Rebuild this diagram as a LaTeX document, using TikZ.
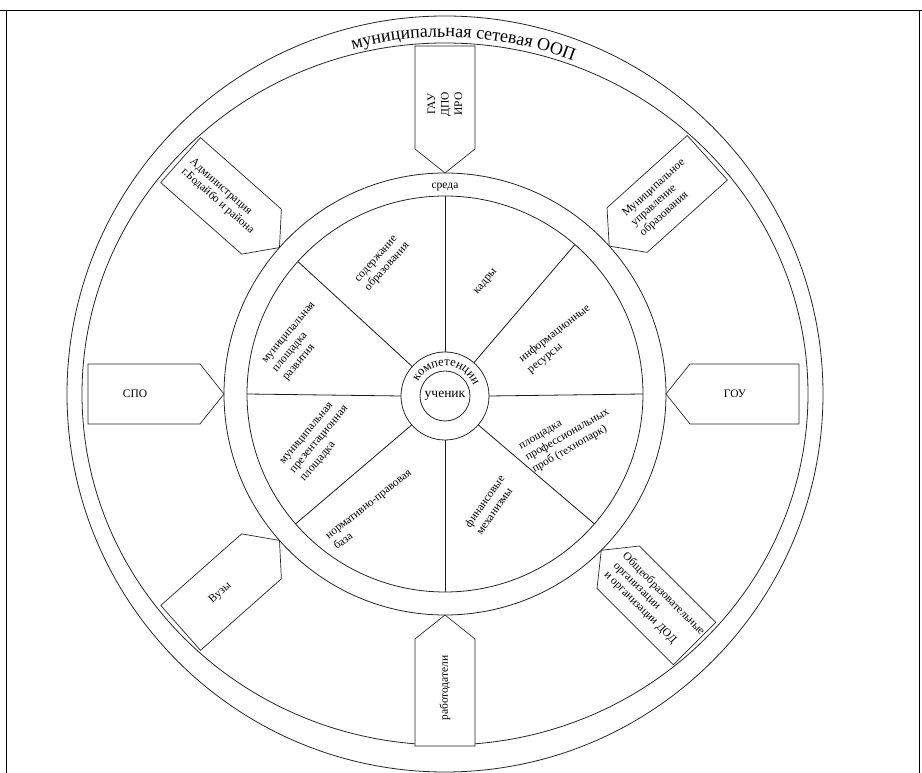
\documentclass[tikz,border=0pt]{standalone}
\usepackage{fontspec}
\setmainfont{Liberation Serif}
\usetikzlibrary{decorations.text,calc}
\begin{document}
\begin{tikzpicture}[x=1pt,y=1pt,line width=0.7pt,
  ring/.style={draw=black!85,line width=0.8pt},
  framel/.style={draw=black,line width=0.9pt},
  boxshape/.style={draw=black!85,line width=0.7pt,fill=white},
  spoke/.style={draw=black!90,line width=0.8pt},
  sect/.style={font=\fontsize{11.5}{13.5}\selectfont,align=left,inner sep=0pt},
  boxtxt/.style={font=\fontsize{11.5}{13}\selectfont,align=left,inner sep=0pt},
  boxtxtc/.style={font=\fontsize{11.5}{13.5}\selectfont,align=center,inner sep=0pt}]
\useasboundingbox (-445,-379) rectangle (477,394);
% frame of the table cell
\draw[framel] (-445,384) -- (477,384);
\draw[framel] (-439,384) -- (-439,-379);
\draw[framel] (474,384) -- (474,-379);
% rings
\draw[ring] (0,0) circle[radius=378];
\draw[ring] (0,0) ellipse[x radius=363,y radius=351];
\draw[ring] (0,0) circle[radius=221];
\draw[ring] (0,0) circle[radius=198];
\coordinate (c) at (0,-2);
\draw[ring] (c) circle[radius=44];
\draw[ring] (c) circle[radius=25];
% spokes
\foreach \a in {90,49,0,-41,-90,-139,180,138}
  \draw[spoke] ($(c)+(\a:44)$) -- (\a:198);
% arrow boxes
\foreach \a/\L in {90/348,42/353,0/354,-45/353,-90/352,-138.5/353,180/357,138.5/353}
  \draw[boxshape,rotate=\a] (221,0) -- (245,30) -- (\L,30) -- (\L,-30) -- (245,-30) -- cycle;
% title
\path[decorate,decoration={text along path,text align=center,
  text={|\fontsize{18}{18}\selectfont|муниципальная сетевая ООП}}]
  (125:357) arc[start angle=125,end angle=49,radius=357];
% kompetencii
\path[decorate,decoration={text along path,text align=center,
  text={|\fontsize{12.5}{12.5}\selectfont|компетенции}}]
  ($(c)+(178:30.5)$) arc[start angle=178,end angle=-5,radius=30.5];
\node[font=\fontsize{13.5}{13.5}\selectfont,inner sep=0pt] (uch) at (c) {ученик};
\node[font=\fontsize{11.5}{11.5}\selectfont,inner sep=0pt] (sreda) at (0,207) {среда};
% sectors
\node[sect,rotate=48] (s1) at (-62,131) {содержание\\образования};
\node[sect,rotate=50] (s2) at (41,112) {кадры};
\node[sect,rotate=38] (s3) at (114,55) {информационные\\ресурсы};
\node[sect,rotate=30] (s4) at (123,-42) {площадка\\профессиональных\\проб (технопарк)};
\node[sect,rotate=55] (s5) at (45,-111) {финансовые\\механизмы};
\node[sect,rotate=38] (s6) at (-72,-116) {нормативно-правовая\\база};
\node[sect,rotate=50] (s7) at (-125,-46) {муниципальная\\презентационная\\площадка};
\node[sect,rotate=50] (s8) at (-145,52) {муниципальная\\площадка\\развития};
% box labels
\node[boxtxtc,rotate=90] (b1) at (90:290) {ГАУ\\ДПО\\ИРО};
\node[boxtxt,rotate=42] (b2) at (42:293) {Муниципальное\\управление\\образования};
\node[boxtxtc] (b3) at (0:290) {ГОУ};
\node[boxtxt,rotate=-45] (b4) at (-45:296) {Общеобразовательные\\организации\\и организации ДОД};
\node[boxtxtc,rotate=90] (b5) at (-90:294) {работодатели};
\node[boxtxtc,rotate=41.5] (b6) at (-138.5:300) {Вузы};
\node[boxtxtc] (b7) at (180:310) {СПО};
\node[boxtxt,rotate=-41.5] (b8) at (138.5:298) {Администрация\\г.Бодайбо и района};
\end{tikzpicture}
\end{document}
